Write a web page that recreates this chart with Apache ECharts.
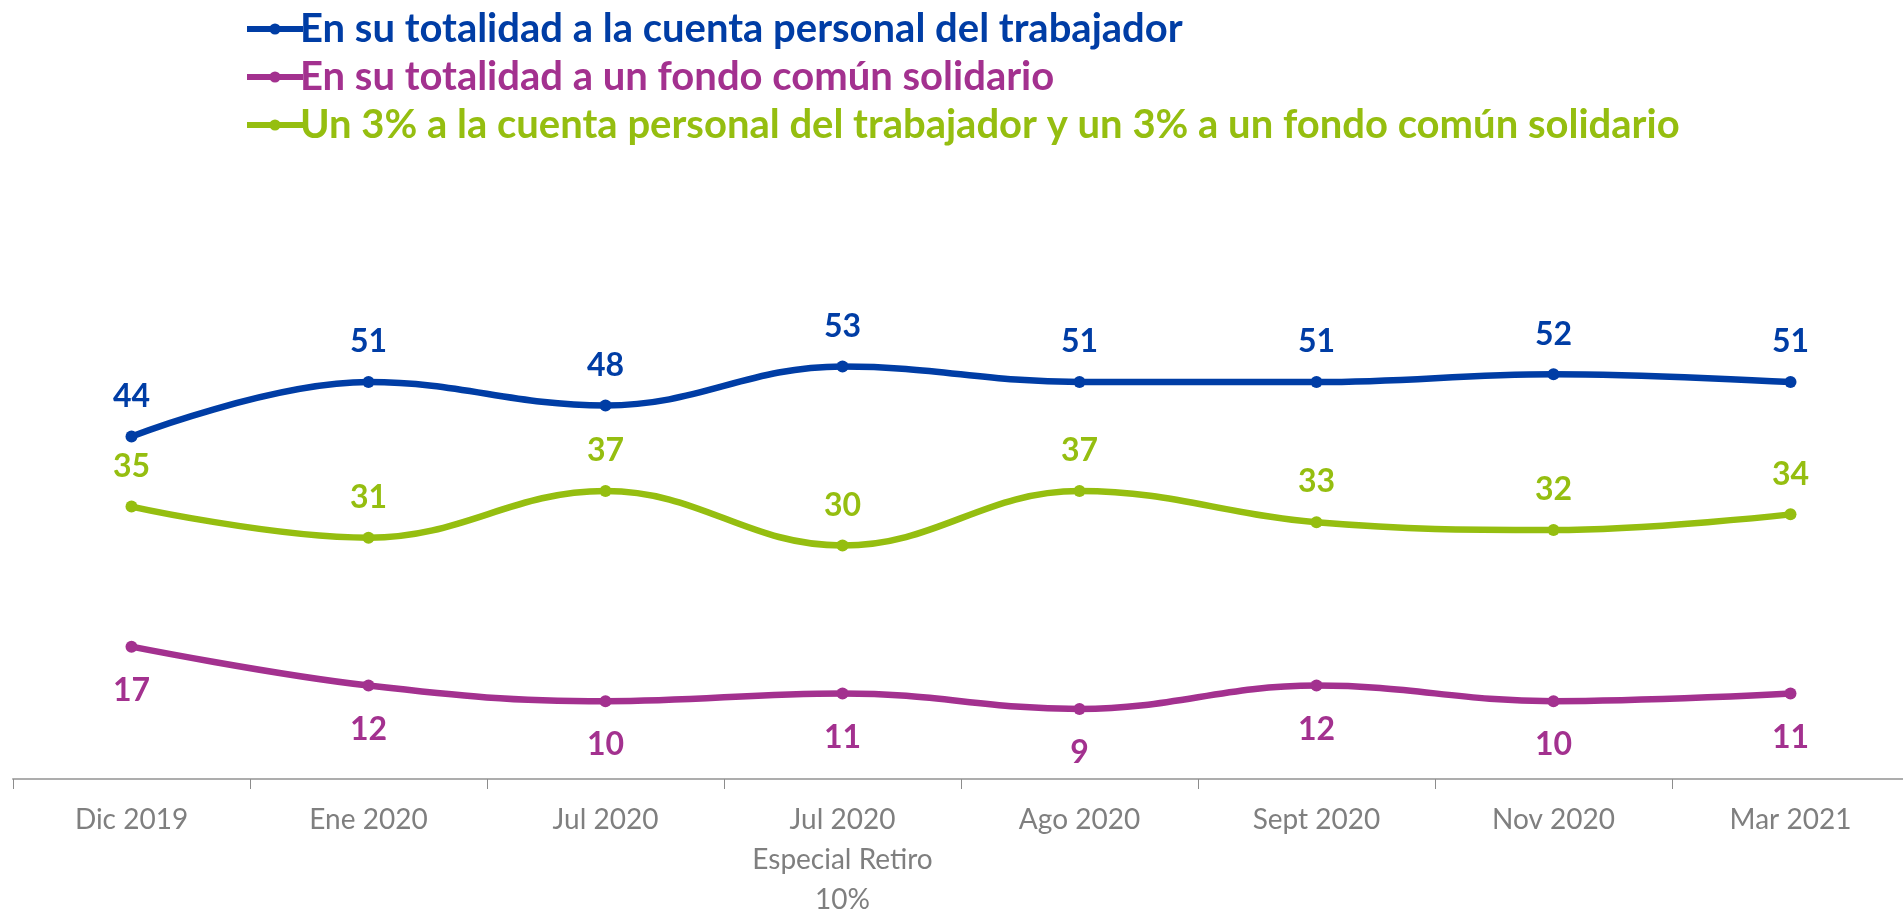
<!DOCTYPE html>
<html>
<head>
<meta charset="utf-8">
<script src="https://cdn.jsdelivr.net/npm/echarts@6/dist/echarts.min.js"></script>
<style>
  html, body { margin: 0; padding: 0; background: #fff; }
  #chart { width: 1903px; height: 911px; }
</style>
</head>
<body>
<div id="chart"></div>
<script>
// categorías del eje x
var categories = ['Dic 2019', 'Ene 2020', 'Jul 2020', 'Jul 2020\nEspecial Retiro\n10%', 'Ago 2020', 'Sept 2020', 'Nov 2020', 'Mar 2021'];

// series
var cuentaPersonal = [44, 51, 48, 53, 51, 51, 52, 51];
var fondoComun = [17, 12, 10, 11, 9, 12, 10, 11];
var mixto = [35, 31, 37, 30, 37, 33, 32, 34];

var names = [
  'En su totalidad a la cuenta personal del trabajador',
  'En su totalidad a un fondo común solidario',
  'Un 3% a la cuenta personal del trabajador y un 3% a un fondo común solidario'
];
var colors = ['#003DA5', '#A3318F', '#95BE10'];

var FONT = 'Lato, "Open Sans", sans-serif';

var myChart = echarts.init(document.getElementById('chart'));

function lineSerie(i, data, labelPos, dist) {
  return {
    name: names[i],
    type: 'line',
    data: data,
    smooth: 0.4,
    symbol: 'circle',
    symbolSize: 12,
    lineStyle: { color: colors[i], width: 6.5 },
    itemStyle: { color: colors[i] },
    label: {
      show: true,
      position: labelPos,
      distance: dist,
      color: colors[i],
      fontFamily: FONT,
      fontWeight: 'bold',
      fontSize: 32
    }
  };
}

var option = {
  animation: false,
  legend: {
    orient: 'vertical',
    left: 239,
    top: 2,
    itemWidth: 56,
    itemHeight: 14,
    itemGap: 4,
    lineStyle: { width: 6 },
    textStyle: {
      fontFamily: FONT,
      fontWeight: 'bold',
      fontSize: 40,
      lineHeight: 44,
      padding: [0, 0, 0, -8]
    },
    // color del texto igual al de cada serie
    data: names.map(function (n, i) {
      return { name: n, textStyle: { color: colors[i] } };
    })
  },
  grid: {
    left: 13,
    width: 1896,
    top: 312,
    bottom: 132,
    containLabel: false,
    outerBoundsMode: 'none'
  },
  xAxis: {
    type: 'category',
    data: categories,
    boundaryGap: true,
    axisLine: { lineStyle: { color: '#adadad', width: 2 } },
    axisTick: { show: true, length: 10, lineStyle: { color: '#8c8c8c', width: 1 } },
    axisLabel: {
      color: '#7f7f7f',
      fontFamily: FONT,
      fontSize: 28,
      lineHeight: 40,
      margin: 21,
      interval: 0
    }
  },
  yAxis: {
    type: 'value',
    min: 0,
    max: 60,
    show: false,
    splitLine: { show: false }
  },
  series: [
    lineSerie(0, cuentaPersonal, 'top', 18),
    lineSerie(1, fondoComun, 'bottom', 22),
    lineSerie(2, mixto, 'top', 18)
  ]
};

myChart.setOption(option);
</script>
</body>
</html>
